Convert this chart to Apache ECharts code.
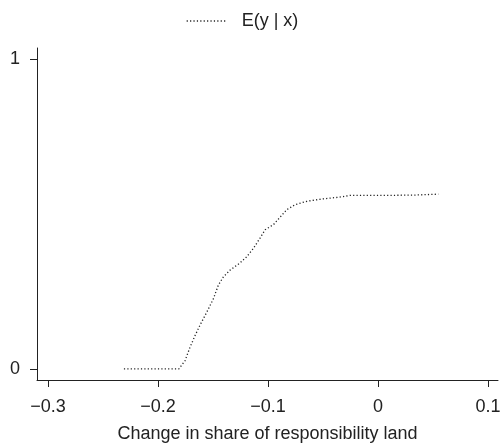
<!DOCTYPE html>
<html>
<head>
<meta charset="utf-8">
<script src="https://cdn.jsdelivr.net/npm/echarts@6/dist/echarts.min.js"></script>
<style>html,body{margin:0;padding:0;background:#fff;}#c{width:500px;height:444px;}</style>
</head>
<body>
<div id="c"></div>
<script>
var seriesName = 'E(y | x)';
var xValues = [-0.231, -0.181, -0.1755, -0.171, -0.1664, -0.162, -0.1557, -0.1497, -0.1452, -0.1406, -0.1345, -0.1255, -0.1194, -0.1133, -0.1073, -0.1027, -0.095, -0.089, -0.083, -0.0755, -0.0648, -0.0497, -0.036, -0.0255, 0.0018, 0.032, 0.0548];
var yValues = [0, 0, 0.026, 0.069, 0.107, 0.14, 0.183, 0.226, 0.27, 0.297, 0.319, 0.342, 0.362, 0.389, 0.422, 0.449, 0.466, 0.49, 0.514, 0.53, 0.541, 0.549, 0.554, 0.56, 0.56, 0.561, 0.564];
var xTicks = [-0.3, -0.2, -0.1, 0, 0.1];
var yTicks = [0, 1];
var xTitle = 'Change in share of responsibility land';

var data = xValues.map(function (x, i) { return [x, yValues[i]]; });
var FONT = 'Liberation Sans, Arial, Helvetica, sans-serif';
var INK = '#222';
function fmt(v) {
  var s = String(Math.round(v * 10) / 10);
  return s.replace('-', '\u2212');
}
var chart = echarts.init(document.getElementById('c'), null, {renderer: 'canvas'});
chart.setOption({
  animation: false,
  backgroundColor: '#fff',
  legend: {
    left: 181, top: 7,
    itemWidth: 40, itemHeight: 16,
    itemStyle: {opacity: 0},
    lineStyle: {color: '#222', width: 1.3, type: [1.2, 2.2]},
    textStyle: {fontFamily: FONT, fontSize: 18, color: INK, padding: [0, 0, 0, 10]},
    data: [seriesName]
  },
  grid: {left: 37, right: 2, top: 48, bottom: 64, containLabel: false, outerBoundsMode: 'none'},
  xAxis: {
    type: 'value', min: -0.31, max: 0.109,
    splitLine: {show: false},
    axisLine: {show: true, onZero: false, lineStyle: {color: INK, width: 1}},
    axisTick: {show: true, length: 7, lineStyle: {color: INK}, customValues: xTicks},
    axisLabel: {fontFamily: FONT, fontSize: 18, color: INK, margin: 18, customValues: xTicks, formatter: fmt},
    name: xTitle, nameLocation: 'middle', nameGap: 45,
    nameTextStyle: {fontFamily: FONT, fontSize: 18, color: INK}
  },
  yAxis: {
    type: 'value', min: -0.036, max: 1.036,
    splitLine: {show: false},
    axisLine: {show: true, onZero: false, lineStyle: {color: INK, width: 1}},
    axisTick: {show: true, length: 7, lineStyle: {color: INK}, customValues: yTicks},
    axisLabel: {fontFamily: FONT, fontSize: 18, color: INK, margin: 17, customValues: yTicks, formatter: function (v) { return String(v); }}
  },
  series: [{
    name: seriesName, type: 'line', data: data,
    symbol: 'none', smooth: false,
    lineStyle: {color: '#222', width: 1.3, type: [1.2, 2.2]},
    itemStyle: {color: '#222'}
  }]
});
</script>
</body>
</html>
